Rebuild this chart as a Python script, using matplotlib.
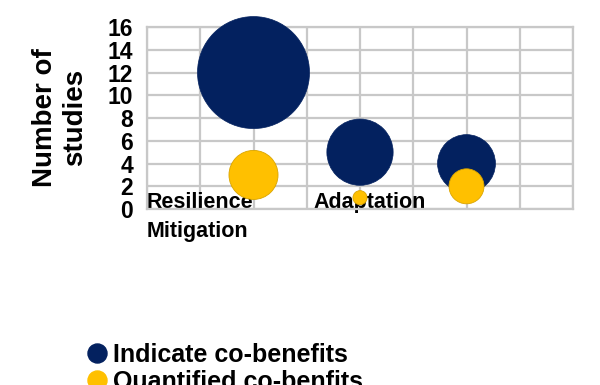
import matplotlib
matplotlib.use("Agg")
import matplotlib.pyplot as plt
from matplotlib.lines import Line2D
from matplotlib import transforms

plt.rcParams['font.family'] = ['Liberation Sans', 'DejaVu Sans']

# data
categories = ['Resilience', 'Adaptation', 'Mitigation']
x_pos = [1, 2, 3]
indicate = [12, 5, 4]
quantified = [3, 1, 2]
# bubble size values
indicate_size = [12, 4.2, 3.2]
quantified_size = [2.3, 0.19, 1.17]
series_names = ['Indicate co-benefits', 'Quantified co-benfits']
y_ticks = [0, 2, 4, 6, 8, 10, 12, 14, 16]

navy = '#03215f'
gold = '#ffc000'
grid_c = '#c8c8c8'
k = 542  # points^2 per bubble size unit

fig = plt.figure(figsize=(6, 3.85), dpi=100)
ax = fig.add_axes([0.245, 0.457, 0.71, 0.4727])

ax.scatter(x_pos, indicate, s=[v * k for v in indicate_size], color=navy,
           edgecolor=navy, linewidth=0.5, zorder=3, clip_on=False)
ax.scatter(x_pos, quantified, s=[v * k for v in quantified_size], color=gold,
           edgecolor='#d9a400', linewidth=0.6, zorder=4, clip_on=False)

ax.set_xlim(0, 4)
ax.set_ylim(0, 16)
ax.set_xticks([i * 0.5 for i in range(9)])
ax.set_xticklabels([])
ax.set_yticks(y_ticks)
ax.set_yticklabels([str(t) for t in y_ticks], fontsize=16.5, fontweight='bold')
ax.tick_params(axis='both', length=0, pad=10)
ax.grid(True, color=grid_c, linewidth=1.6, zorder=0)
ax.set_axisbelow(True)
for sp in ax.spines.values():
    sp.set_color(grid_c)
    sp.set_linewidth(1.6)

ax.set_ylabel('Number of\nstudies', fontsize=20, fontweight='bold',
              ha='center', va='center')
ax.yaxis.set_label_coords(-0.204, 0.503)

# category labels, drawn the way the original export placed them
trans = transforms.blended_transform_factory(ax.transData, ax.transAxes)
label_spots = [(0.0, 0.006), (1.56, 0.006), (0.0, -0.154)]
for name, (lx, ly) in zip(categories, label_spots):
    ax.text(lx, ly, name, transform=trans, ha='left', va='baseline',
            fontsize=15.5, fontweight='bold', zorder=2, clip_on=False)

# legend sits low, second entry runs off the bottom like the original
handles = [Line2D([], [], marker='o', linestyle='', markersize=13.7,
                  markerfacecolor=c, markeredgecolor=c)
           for c in (navy, gold)]
fig.legend(handles, series_names, loc='upper left',
           bbox_to_anchor=(0.12, 0.141), frameon=False, borderpad=0,
           handlelength=1.0, handletextpad=0.15, labelspacing=0.1,
           prop={'family': 'Liberation Sans', 'weight': 'bold', 'size': 18})

fig.savefig('out.png', dpi=100)
